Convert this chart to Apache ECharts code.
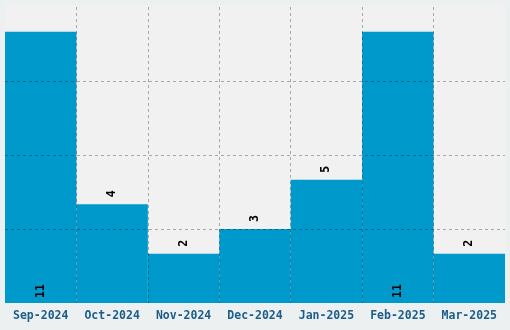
<!DOCTYPE html>
<html>
<head>
<meta charset="utf-8">
<script src="https://cdn.jsdelivr.net/npm/echarts@6/dist/echarts.min.js"></script>
<style>
html,body{margin:0;padding:0;background:#ecf0f1;}
#chart{width:510px;height:330px;}
</style>
</head>
<body>
<div id="chart"></div>
<script>
const categories = ['Sep-2024','Oct-2024','Nov-2024','Dec-2024','Jan-2025','Feb-2025','Mar-2025'];
const values = [11, 4, 2, 3, 5, 11, 2];
const insideLabelValues = [11];

const chart = echarts.init(document.getElementById('chart'), null, {renderer:'canvas'});
const data = values.map(v => {
  const inside = insideLabelValues.includes(v);
  return {
    value: v,
    label: inside ? {position:'insideBottom', distance:5} : {position:'top', distance:7}
  };
});
chart.setOption({
  backgroundColor:'#ecf0f1',
  animation:false,
  graphic:[{type:'rect', z:-100, silent:true, shape:{x:5,y:5,width:500,height:298}, style:{fill:'#f1f1f1'}}],
  grid:{left:5,right:5,top:7,bottom:27,containLabel:false},
  xAxis:{
    type:'category', data:categories, z:5,
    axisLine:{show:false}, axisTick:{show:false},
    axisLabel:{interval:0, color:'#1c5d8a', fontFamily:'DejaVu Sans Mono', fontWeight:'bold', fontSize:11.5, margin:7},
    splitLine:{show:true, interval:0, showMinLine:false, showMaxLine:false, lineStyle:{color:'rgba(0,0,0,0.3)', type:[3,3], width:1}}
  },
  yAxis:{
    type:'value', min:0, max:12, interval:3, z:5,
    axisLine:{show:false}, axisTick:{show:false}, axisLabel:{show:false},
    splitLine:{show:true, showMinLine:false, showMaxLine:false, lineStyle:{color:'rgba(0,0,0,0.3)', type:[3,3], width:1}}
  },
  series:[{
    type:'bar', data:data, barCategoryGap:'0%', z:1,
    itemStyle:{color:'#0099cc'},
    label:{show:true, rotate:90, align:'left', verticalAlign:'middle', color:'#000',
      fontFamily:'DejaVu Sans Mono', fontWeight:'bold', fontSize:11.5}
  }]
});
</script>
</body>
</html>
